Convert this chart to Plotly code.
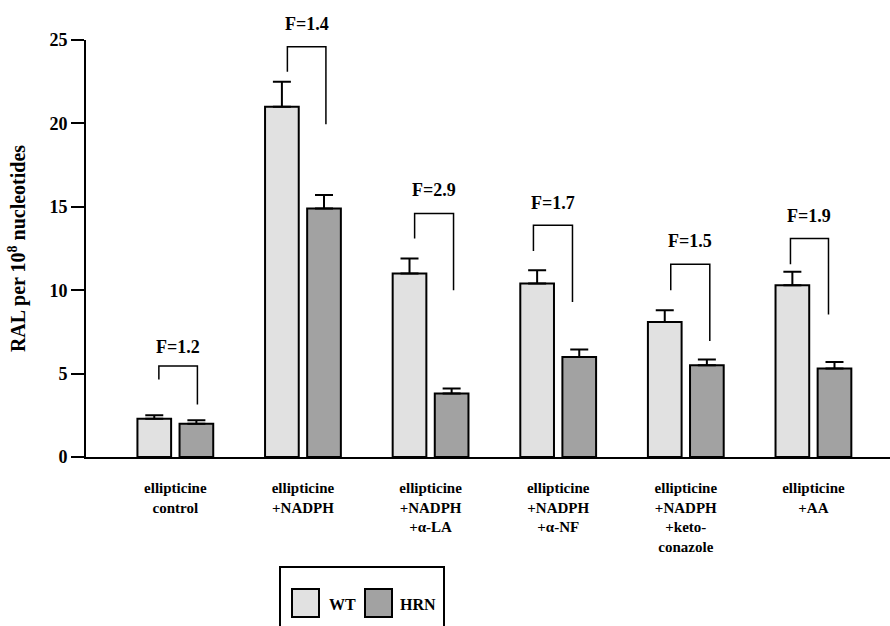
import plotly.graph_objects as go

# ---- data ----
categories = ["ellipticine<br>control", "ellipticine<br>+NADPH",
              "ellipticine<br>+NADPH<br>+α-LA", "ellipticine<br>+NADPH<br>+α-NF",
              "ellipticine<br>+NADPH<br>+keto-<br>conazole", "ellipticine<br>+AA"]
wt_values = [2.3, 21.0, 11.0, 10.4, 8.1, 10.3]
wt_errors = [0.2, 1.5, 0.9, 0.8, 0.7, 0.8]
hrn_values = [2.0, 14.9, 3.8, 6.0, 5.5, 5.3]
hrn_errors = [0.2, 0.8, 0.3, 0.45, 0.35, 0.4]
fold_labels = ["F=1.2", "F=1.4", "F=2.9", "F=1.7", "F=1.5", "F=1.9"]
# bracket geometry (y values)
bracket_top = [5.45, 24.6, 14.6, 13.9, 11.55, 13.1]
bracket_left_end = [4.65, 23.1, 13.1, 12.35, 10.0, 11.55]
bracket_right_end = [3.15, 19.95, 10.0, 9.3, 6.95, 8.55]
bracket_left_dx = [-0.129, -0.122, -0.125, -0.194, -0.118, -0.18]
bracket_right_dx = [0.173, 0.18, 0.18, 0.112, 0.188, 0.118]
label_y = [6.6, 25.94, 16.0, 15.23, 12.94, 14.47]
y_ticks = [0, 5, 10, 15, 20, 25]
Y_MAX = 25

WT_COLOR = "#e1e1e1"
HRN_COLOR = "#a2a2a2"
FONT = "Liberation Serif"

x = list(range(len(categories)))

fig = go.Figure()
fig.add_trace(go.Bar(
    x=x, y=wt_values, name="WT",
    marker=dict(color=WT_COLOR, line=dict(color="black", width=2)),
    error_y=dict(type="data", array=wt_errors, arrayminus=[0] * len(x),
                 symmetric=False, color="black", thickness=2, width=9),
    showlegend=False,
))
fig.add_trace(go.Bar(
    x=x, y=hrn_values, name="HRN",
    marker=dict(color=HRN_COLOR, line=dict(color="black", width=2)),
    error_y=dict(type="data", array=hrn_errors, arrayminus=[0] * len(x),
                 symmetric=False, color="black", thickness=2, width=9),
    showlegend=False,
))

shapes = []
annotations = []
for i in x:
    xl = i + bracket_left_dx[i]
    xr = i + bracket_right_dx[i]
    shapes.append(dict(
        type="path", xref="x", yref="y",
        path=f"M {xl},{bracket_left_end[i]} L {xl},{bracket_top[i]} L {xr},{bracket_top[i]} L {xr},{bracket_right_end[i]}",
        line=dict(color="black", width=1.5),
    ))
    annotations.append(dict(
        x=(xl + xr) / 2, y=label_y[i] / Y_MAX, xref="x", yref="paper",
        text=fold_labels[i], showarrow=False, xanchor="center", yanchor="middle",
        font=dict(family=FONT, size=18, color="black", weight="bold"),
    ))

# custom legend box (paper coordinates)
def px_x(p):
    return (p - 86) / 804.0

def px_y(p):
    return (457 - p) / 417.0

shapes.append(dict(type="rect", xref="paper", yref="paper",
                   x0=px_x(280), x1=px_x(444), y0=px_y(567), y1=px_y(660),
                   line=dict(color="black", width=2), fillcolor="white", layer="below"))
for name, color, sx, tx in [("WT", WT_COLOR, 292, 327), ("HRN", HRN_COLOR, 365, 398)]:
    shapes.append(dict(type="rect", xref="paper", yref="paper",
                       x0=px_x(sx), x1=px_x(sx + 27), y0=px_y(617), y1=px_y(589),
                       line=dict(color="black", width=2), fillcolor=color))
    annotations.append(dict(x=px_x(tx), y=px_y(604), xref="paper", yref="paper",
                            text=name, showarrow=False, xanchor="left", yanchor="middle",
                            font=dict(family=FONT, size=16, color="black", weight="bold")))

fig.update_layout(
    width=890, height=626,
    margin=dict(l=86, r=0, t=40, b=169),
    paper_bgcolor="white", plot_bgcolor="white",
    barmode="group", bargap=0.34, bargroupgap=0.2,
    font=dict(family=FONT, size=15, color="black", weight="bold"),
    shapes=shapes, annotations=annotations,
    xaxis=dict(
        range=[-0.70, 5.60], tickvals=x, ticktext=categories,
        showline=True, linecolor="black", linewidth=2,
        ticks="outside", ticklen=16, tickcolor="rgba(0,0,0,0)",
        tickfont=dict(family=FONT, size=15, color="black", weight="bold"),
        showgrid=False, zeroline=False,
    ),
    yaxis=dict(
        range=[0, Y_MAX], tickvals=y_ticks,
        showline=True, linecolor="black", linewidth=2,
        ticks="outside", ticklen=13, tickwidth=2, tickcolor="black",
        tickfont=dict(family=FONT, size=18, color="black", weight="bold"),
        showgrid=False, zeroline=False,
        title=dict(text="RAL per 10<sup>8</sup> nucleotides", standoff=18,
                   font=dict(family=FONT, size=20, color="black", weight="bold")),
    ),
)

fig.write_html("out.html", config={"displayModeBar": False},
               post_script="document.body.style.margin='0px';")
